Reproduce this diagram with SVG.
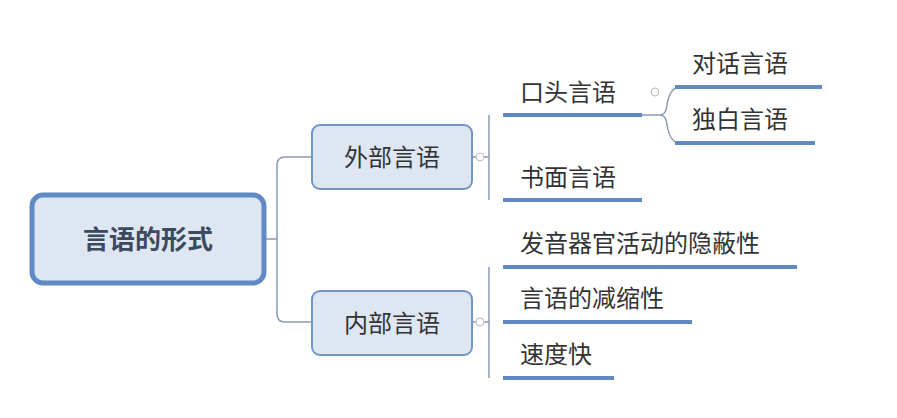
<svg xmlns="http://www.w3.org/2000/svg" width="897" height="418" viewBox="0 0 897 418">
<style>
text{font-family:"Microsoft YaHei","Noto Sans CJK SC",sans-serif;fill:#333;}
.t{font-size:24px;}
.box{fill:#dde6f1;stroke:#6f96c6;stroke-width:2;}
.ul{stroke:#5f8ac4;stroke-width:4;fill:none;}
.ln{stroke:#8a9bb3;stroke-width:1.5;fill:none;}
.cc{fill:#fff;stroke:#bbb;stroke-width:1;}
</style>
<rect width="897" height="418" fill="#fff"/>
<g id="connectors">
<path class="ln" d="M266,239 H277 M312,157 H285 Q277,157 277,165 V314 Q277,322 285,322 H312"/>
<path class="ln" d="M472,157 H489 M489,115 V200 M472,322 H489 M489,267 V378"/>
<path class="ln" d="M642,115 H660 Q666,115 667,105 Q670,87 680,87 M660,115 Q666,115 667,125 Q670,143 680,143"/>
<circle class="cc" cx="480" cy="157" r="4"/>
<circle class="cc" cx="480" cy="322" r="4"/>
<circle class="cc" cx="655" cy="92" r="4"/>
</g>
<g id="root"><rect x="32" y="195" width="232" height="88" rx="11" fill="#dde6f1" stroke="#5f8ac4" stroke-width="5"/><text x="148" y="249" text-anchor="middle" font-size="26" font-weight="bold" style="fill:#3b4a5f">言语的形式</text></g>
<g id="waibu"><rect class="box" x="312" y="125" width="160" height="64" rx="8"/><text class="t" x="392" y="166" text-anchor="middle">外部言语</text></g>
<g id="neibu"><rect class="box" x="312" y="291" width="160" height="64" rx="8"/><text class="t" x="392" y="332" text-anchor="middle">内部言语</text></g>
<g id="koutou"><text class="t" x="520" y="101">口头言语</text><path class="ul" d="M503,115 H642"/></g>
<g id="shumian"><text class="t" x="520" y="186">书面言语</text><path class="ul" d="M503,200 H642"/></g>
<g id="duihua"><text class="t" x="692" y="72">对话言语</text><path class="ul" d="M675,87 H822"/></g>
<g id="dubai"><text class="t" x="692" y="128">独白言语</text><path class="ul" d="M675,143 H815"/></g>
<g id="fayin"><text class="t" x="520" y="252">发音器官活动的隐蔽性</text><path class="ul" d="M503,267 H797"/></g>
<g id="jiansuo"><text class="t" x="520" y="307">言语的减缩性</text><path class="ul" d="M503,322 H692"/></g>
<g id="sudu"><text class="t" x="520" y="363">速度快</text><path class="ul" d="M503,378 H614"/></g>
</svg>
